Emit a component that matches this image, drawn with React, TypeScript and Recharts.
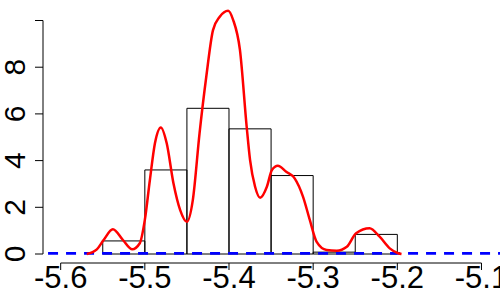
import { ComposedChart, Line, XAxis, YAxis, ReferenceArea, ReferenceLine } from 'recharts'

// histogram bins (width 0.05) and their density heights
const binStarts = [-5.55, -5.5, -5.45, -5.4, -5.35, -5.3, -5.25]
const binHeights = [0.56, 3.6, 6.24, 5.36, 3.36, 0.08, 0.84]
const BIN_WIDTH = 0.05

// kernel density estimate
const densityX = [
  -5.569, -5.557, -5.549, -5.538, -5.526, -5.515, -5.506, -5.5, -5.494, -5.488,
  -5.481, -5.474, -5.466, -5.458, -5.45, -5.443, -5.435, -5.427, -5.419, -5.411,
  -5.401, -5.395, -5.387, -5.379, -5.375, -5.369, -5.363, -5.355, -5.349, -5.342,
  -5.332, -5.322, -5.312, -5.304, -5.296, -5.284, -5.272, -5.26, -5.249, -5.233,
  -5.221, -5.209, -5.199, -5.195,
]
const densityY = [
  0, 0.2, 0.6, 1.06, 0.6, 0.2, 0.46, 1.46, 3.17, 4.74,
  5.42, 4.74, 3.03, 1.88, 1.38, 2.31, 5.17, 7.59, 9.59, 10.16,
  10.42, 10.02, 8.74, 5.45, 4.03, 2.88, 2.41, 2.88, 3.6, 3.78,
  3.52, 3.24, 2.45, 1.46, 0.53, 0.17, 0.14, 0.31, 0.89, 1.1,
  0.74, 0.24, 0.03, 0,
]

const xTicks = [-5.6, -5.5, -5.4, -5.3, -5.2, -5.1]
const yTicks = [0, 2, 4, 6, 8, 10]
const yLabels = ['0', '2', '4', '6', '8', '']
const BASE_LEVEL = 0.03

const X_MIN = -5.621
const X_MAX = -5.078
const Y_MIN = -0.385
const Y_MAX = 10.878

const FONT = '"Liberation Sans", Arial, sans-serif'

const densityData = densityX.map((x, i) => ({ x, y: densityY[i] }))

function XTick(props: any) {
  const { x, y, payload } = props
  return (
    <text x={x} y={y + 18} textAnchor="middle" fontSize={31} fontFamily={FONT} fill="#000">
      {String(payload.value)}
    </text>
  )
}

function YTick(props: any) {
  const { x, y, payload } = props
  const idx = yTicks.indexOf(payload.value)
  const label = idx >= 0 ? yLabels[idx] : ''
  const tx = x - 9.5
  return (
    <text x={tx} y={y} transform={`rotate(-90, ${tx}, ${y})`} textAnchor="middle"
      fontSize={30} fontFamily={FONT} fill="#000">
      {label}
    </text>
  )
}

export default function App() {
  return (
    <div style={{ position: 'absolute', left: 0, top: 0, background: '#fff' }}>
      <ComposedChart width={500} height={300} data={densityData}
        margin={{ top: 0, right: 0, bottom: 0, left: 0 }}>
        <XAxis dataKey="x" type="number" domain={[X_MIN, X_MAX]} ticks={xTicks}
          allowDataOverflow height={37} axisLine={false} tickLine={{ stroke: '#000' }}
          tickSize={7} tickMargin={0} tick={<XTick />} interval={0} />
        <YAxis type="number" domain={[Y_MIN, Y_MAX]} ticks={yTicks} allowDataOverflow
          width={43} axisLine={false} tickLine={{ stroke: '#000' }} tickSize={8}
          tickMargin={0} tick={<YTick />} interval={0} />
        {binStarts.map((b, i) => (
          <ReferenceArea key={i} x1={b} x2={b + BIN_WIDTH} y1={0} y2={binHeights[i]}
            fill="none" fillOpacity={0} stroke="#000" strokeWidth={1} strokeOpacity={1} />
        ))}
        <ReferenceLine segment={[{ x: X_MIN, y: 0 }, { x: X_MIN, y: 10 }]} stroke="#000" strokeWidth={1} />
        <ReferenceLine segment={[{ x: -5.6, y: Y_MIN }, { x: -5.1, y: Y_MIN }]} stroke="#000" strokeWidth={1} />
        <ReferenceLine segment={[{ x: -5.615, y: BASE_LEVEL }, { x: X_MAX, y: BASE_LEVEL }]}
          stroke="#0000FF" strokeWidth={2.7} strokeDasharray="10 8" />
        <Line dataKey="y" type="monotone" stroke="#FF0000" strokeWidth={2.5} dot={false}
          isAnimationActive={false} />
      </ComposedChart>
    </div>
  )
}
